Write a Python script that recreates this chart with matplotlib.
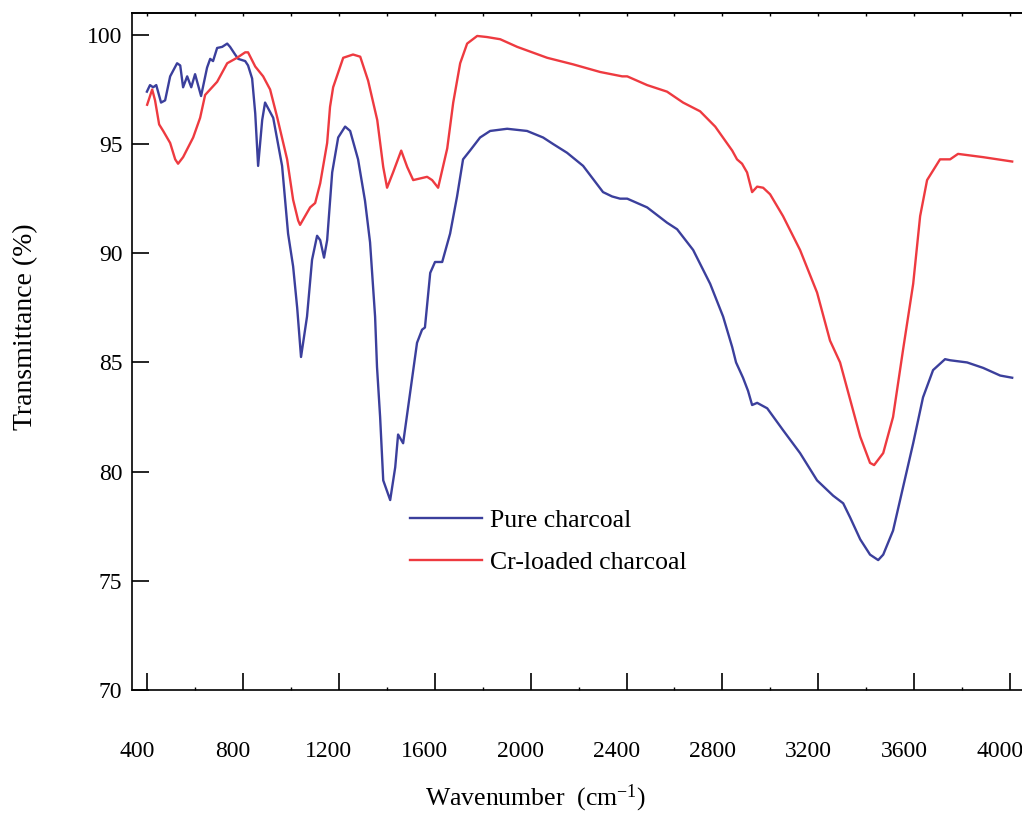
import matplotlib.pyplot as plt
from matplotlib.ticker import MultipleLocator
from matplotlib.transforms import ScaledTranslation

plt.rcParams['font.family'] = ['Liberation Serif', 'DejaVu Serif']
plt.rcParams['mathtext.fontset'] = 'stix'

# ── DATA ──────────────────────────────────────────────────
pure_wn = [399, 412, 425, 438, 458, 475, 496, 525, 538, 550, 567, 584, 600, 625,
           650, 663, 675, 692, 713, 734, 746, 767, 780, 809, 821, 838, 851, 863,
           880, 892, 926, 963, 988, 1009, 1026, 1042, 1067, 1088, 1109, 1122,
           1138, 1151, 1172, 1197, 1226, 1247, 1280, 1309, 1330, 1351, 1359,
           1372, 1385, 1414, 1435, 1447, 1468, 1497, 1526, 1547, 1559, 1581,
           1601, 1631, 1664, 1693, 1718, 1747, 1789, 1831, 1902, 1985, 2052,
           2094, 2152, 2219, 2302, 2340, 2373, 2403, 2486, 2569, 2611, 2678,
           2749, 2803, 2841, 2857, 2886, 2907, 2924, 2945, 2987, 3053, 3124,
           3195, 3262, 3304, 3333, 3375, 3416, 3450, 3471, 3512, 3554, 3596,
           3637, 3679, 3729, 3750, 3821, 3888, 3959, 4009]
pure_t = [97.4, 97.7, 97.6, 97.7, 96.9, 97.0, 98.1, 98.7, 98.6, 97.6, 98.1, 97.6,
          98.2, 97.2, 98.5, 98.9, 98.8, 99.4, 99.45, 99.6, 99.45, 99.1, 98.9,
          98.8, 98.6, 98.0, 96.4, 94.0, 96.1, 96.9, 96.2, 94.0, 90.9, 89.4,
          87.5, 85.25, 87.1, 89.7, 90.8, 90.6, 89.8, 90.6, 93.7, 95.3, 95.8,
          95.6, 94.3, 92.4, 90.5, 87.1, 84.8, 82.5, 79.6, 78.7, 80.2, 81.7,
          81.3, 83.6, 85.9, 86.5, 86.6, 89.1, 89.6, 89.6, 90.9, 92.6, 94.3,
          94.7, 95.3, 95.6, 95.7, 95.6, 95.3, 95.0, 94.6, 94.0, 92.8, 92.6,
          92.5, 92.5, 92.1, 91.4, 91.1, 90.15, 88.6, 87.1, 85.7, 85.0, 84.3,
          83.7, 83.05, 83.15, 82.9, 81.9, 80.85, 79.6, 78.9, 78.55, 77.9, 76.9,
          76.2, 75.95, 76.2, 77.3, 79.3, 81.3, 83.4, 84.65, 85.15, 85.1, 85.0,
          84.75, 84.4, 84.3]

cr_wn = [400, 421, 433, 450, 467, 496, 517, 529, 550, 592, 621, 642, 692, 734,
         775, 809, 821, 851, 884, 913, 942, 984, 1009, 1030, 1038, 1080, 1101,
         1122, 1151, 1163, 1176, 1218, 1259, 1289, 1322, 1360, 1385, 1401,
         1426, 1460, 1485, 1510, 1568, 1589, 1614, 1652, 1677, 1706, 1735,
         1777, 1818, 1873, 1944, 2069, 2177, 2290, 2382, 2403, 2486, 2569,
         2636, 2707, 2770, 2841, 2861, 2882, 2903, 2924, 2945, 2970, 2999,
         3053, 3124, 3195, 3249, 3291, 3333, 3375, 3416, 3433, 3471, 3512,
         3554, 3596, 3625, 3654, 3708, 3750, 3783, 3888, 4009]
cr_t = [96.8, 97.5, 97.0, 95.9, 95.6, 95.05, 94.3, 94.1, 94.4, 95.3, 96.2, 97.25,
        97.85, 98.7, 98.95, 99.2, 99.2, 98.55, 98.1, 97.5, 96.25, 94.3, 92.45,
        91.5, 91.3, 92.1, 92.3, 93.2, 95.05, 96.7, 97.6, 98.95, 99.1, 99.0,
        97.9, 96.1, 93.95, 93.0, 93.7, 94.7, 93.95, 93.35, 93.5, 93.35, 93.0,
        94.8, 96.9, 98.7, 99.6, 99.95, 99.9, 99.8, 99.45, 98.95, 98.65, 98.3,
        98.1, 98.1, 97.7, 97.4, 96.9, 96.5, 95.8, 94.7, 94.3, 94.1, 93.7, 92.8,
        93.05, 93.0, 92.7, 91.7, 90.15, 88.2, 86.0, 85.0, 83.3, 81.6, 80.4,
        80.3, 80.85, 82.5, 85.6, 88.6, 91.7, 93.35, 94.3, 94.3, 94.55, 94.4,
        94.2]

labels = ['Pure charcoal', 'Cr-loaded charcoal']
colors = ['#3b3f9c', '#ee3a40']

# ── PLOT ──────────────────────────────────────────────────
fig = plt.figure(figsize=(10.22, 8.14), dpi=100)
ax = fig.add_axes([0.1292, 0.1523, 0.8708, 0.8317])

ax.plot(pure_wn, pure_t, color=colors[0], linewidth=1.7, label=labels[0],
        solid_joinstyle='round')
ax.plot(cr_wn, cr_t, color=colors[1], linewidth=1.7, label=labels[1],
        solid_joinstyle='round')

ax.set_xlim(337, 4050)
ax.set_ylim(70, 101)
ax.set_xticks(range(400, 4001, 400))
ax.xaxis.set_minor_locator(MultipleLocator(200))
ax.set_yticks(range(70, 101, 5))

ax.spines['right'].set_visible(False)
for s in ['left', 'bottom', 'top']:
    ax.spines[s].set_linewidth(1.2)

ax.tick_params(axis='x', which='major', direction='in', length=12, width=1.2,
               labelsize=17, pad=37)
ax.tick_params(axis='x', which='minor', direction='in', length=2, width=1)
ax.tick_params(axis='y', which='major', direction='in', length=12, width=1.2,
               labelsize=17, pad=7)

# tiny ticks along the top edge
top = ax.secondary_xaxis('top')
top.set_xticks(range(400, 4001, 400))
top.xaxis.set_minor_locator(MultipleLocator(200))
top.tick_params(which='both', direction='in', length=2, width=1, labeltop=False)
top.spines['top'].set_linewidth(1.2)

# x tick labels sit slightly left of their ticks in the original
shift = ScaledTranslation(-10 / 100, 0, fig.dpi_scale_trans)
for lab in ax.get_xticklabels():
    lab.set_transform(lab.get_transform() + shift)

ax.set_xlabel(r'Wavenumber  ($\mathregular{cm^{-1}}$)', fontsize=18.5)
ax.xaxis.set_label_coords(0.453, -0.137)
ax.set_ylabel('Transmittance (%)', fontsize=20)
ax.yaxis.set_label_coords(-0.106, 0.537)

ax.legend(loc='upper left', bbox_to_anchor=(0.3124, 0.268), frameon=False,
          fontsize=18.5, handlelength=2.8, handletextpad=0.3, labelspacing=0.75,
          borderpad=0, borderaxespad=0)

plt.savefig('out.png', dpi=100)
